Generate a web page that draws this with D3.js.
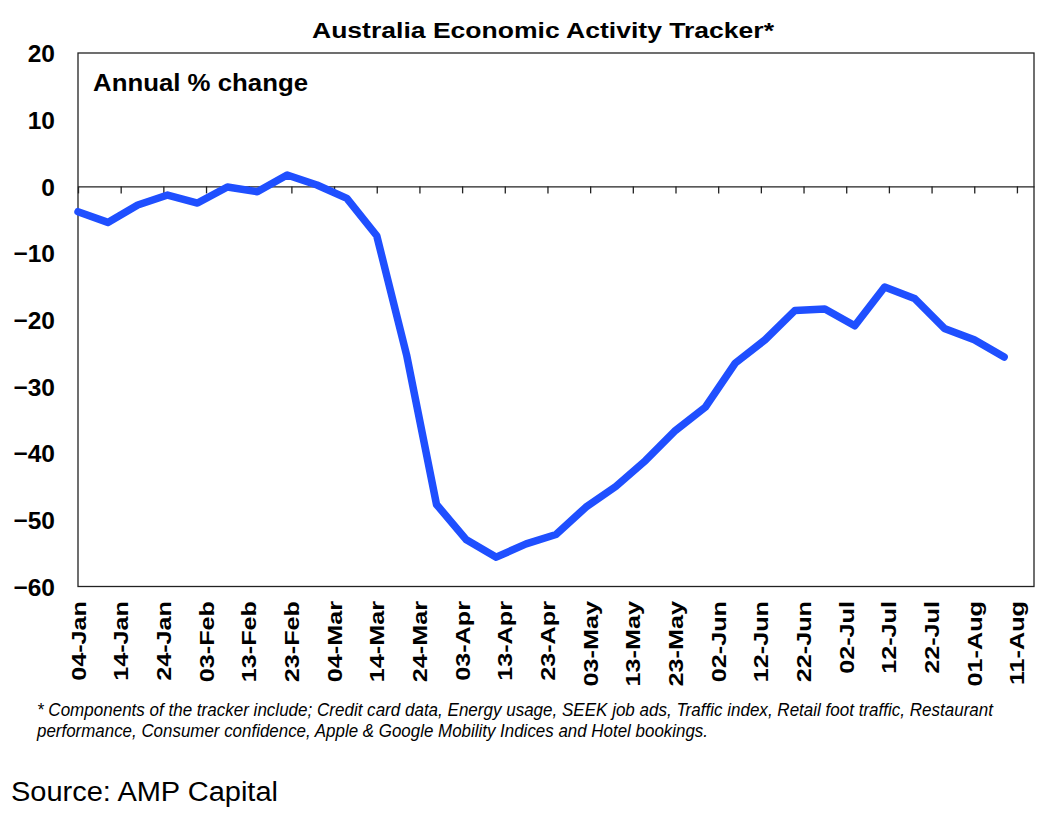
<!DOCTYPE html>
<html>
<head>
<meta charset="utf-8">
<script src="https://cdn.jsdelivr.net/npm/d3@7"></script>
<style>
  html, body { margin: 0; padding: 0; background: #fff; }
  svg { display: block; }
  text { font-family: "Liberation Sans", Arial, sans-serif; fill: #000; }
</style>
</head>
<body>
<svg id="chart" width="1064" height="815"></svg>
<script>
// ---- Data ----
const weekDates = ["2020-01-04","2020-01-11","2020-01-18","2020-01-25","2020-02-01","2020-02-08",
  "2020-02-15","2020-02-22","2020-02-29","2020-03-07","2020-03-14","2020-03-21","2020-03-28",
  "2020-04-04","2020-04-11","2020-04-18","2020-04-25","2020-05-02","2020-05-09","2020-05-16",
  "2020-05-23","2020-05-30","2020-06-06","2020-06-13","2020-06-20","2020-06-27","2020-07-04",
  "2020-07-11","2020-07-18","2020-07-25","2020-08-01","2020-08-08"];
const trackerValues = [-3.8,-5.4,-2.8,-1.3,-2.5,-0.1,-0.8,1.7,0.2,-1.8,-7.4,-25.3,-47.7,-53.0,
  -55.6,-53.6,-52.2,-48.1,-45.0,-41.1,-36.6,-33.1,-26.5,-23.0,-18.6,-18.4,-20.9,-15.1,-16.8,
  -21.3,-23.0,-25.6];
const tickDates = ["2020-01-04","2020-01-14","2020-01-24","2020-02-03","2020-02-13","2020-02-23",
  "2020-03-04","2020-03-14","2020-03-24","2020-04-03","2020-04-13","2020-04-23","2020-05-03",
  "2020-05-13","2020-05-23","2020-06-02","2020-06-12","2020-06-22","2020-07-02","2020-07-12",
  "2020-07-22","2020-08-01","2020-08-11"];
const tickLabels = ["04-Jan","14-Jan","24-Jan","03-Feb","13-Feb","23-Feb","04-Mar","14-Mar",
  "24-Mar","03-Apr","13-Apr","23-Apr","03-May","13-May","23-May","02-Jun","12-Jun","22-Jun",
  "02-Jul","12-Jul","22-Jul","01-Aug","11-Aug"];
const yTicks = [20, 10, 0, -10, -20, -30, -40, -50, -60];
const xDomain = ["2020-01-04", "2020-08-15"];
const yDomain = [-60, 20];

const titleText = "Australia Economic Activity Tracker*";
const unitText = "Annual % change";
const footLines = [
  "* Components of the tracker include; Credit card data, Energy usage, SEEK job ads, Traffic index, Retail foot traffic, Restaurant",
  "performance, Consumer confidence, Apple & Google Mobility Indices and Hotel bookings."
];
const sourceText = "Source: AMP Capital";

// ---- Layout ----
const plot = { left: 78, right: 1034, top: 53, bottom: 586.5 };
const parse = d3.utcParse("%Y-%m-%d");

const svg = d3.select("#chart");
const x = d3.scaleUtc().domain(xDomain.map(parse)).range([plot.left, plot.right]);
const y = d3.scaleLinear().domain(yDomain).range([plot.bottom, plot.top]);

// Title
svg.append("text")
  .attr("x", 543).attr("y", 37.5)
  .attr("text-anchor", "middle")
  .attr("font-size", 22.5).attr("font-weight", "bold")
  .attr("textLength", 462).attr("lengthAdjust", "spacingAndGlyphs")
  .text(titleText);

// Plot border
svg.append("rect")
  .attr("x", plot.left).attr("y", plot.top)
  .attr("width", plot.right - plot.left).attr("height", plot.bottom - plot.top)
  .attr("fill", "none").attr("stroke", "#222").attr("stroke-width", 1.3);

// Zero axis with ticks
const xAxis = d3.axisBottom(x)
  .tickValues(tickDates.map(parse))
  .tickSize(7)
  .tickSizeOuter(0)
  .tickFormat("");
const xg = svg.append("g")
  .attr("transform", `translate(0,${y(0)})`)
  .call(xAxis);
xg.select(".domain").attr("stroke", "#222").attr("stroke-width", 1.3);
xg.selectAll(".tick line").attr("stroke", "#222").attr("stroke-width", 1.3);

// X labels (low position, rotated)
const xl = svg.append("g");
tickDates.forEach((d, i) => {
  const t = xl.append("text")
    .attr("transform", `translate(${x(parse(d)) + 7.5},601) rotate(-90)`)
    .attr("text-anchor", "end")
    .attr("font-size", 21).attr("font-weight", "bold")
    .text(tickLabels[i]);
  const len = t.node().getComputedTextLength();
  t.attr("textLength", len * 1.2).attr("lengthAdjust", "spacingAndGlyphs");
});

// Y axis labels
const yAxis = d3.axisLeft(y).tickValues(yTicks).tickSize(0).tickPadding(0);
const yg = svg.append("g")
  .attr("transform", `translate(${55},0)`)
  .call(yAxis);
yg.select(".domain").remove();
yg.selectAll(".tick text")
  .attr("font-size", 24.5).attr("font-weight", "bold")
  .attr("font-family", '"Liberation Sans", Arial, sans-serif')
  .attr("fill", "#000")
  .attr("dy", "0.36em");

// Unit label
svg.append("text")
  .attr("x", 93).attr("y", 90.5)
  .attr("font-size", 23).attr("font-weight", "bold")
  .attr("textLength", 215).attr("lengthAdjust", "spacingAndGlyphs")
  .text(unitText);

// Line
const data = weekDates.map((d, i) => ({ date: parse(d), value: trackerValues[i] }));
const line = d3.line().x(d => x(d.date)).y(d => y(d.value));
svg.append("path")
  .datum(data)
  .attr("d", line)
  .attr("fill", "none")
  .attr("stroke", "#1F4FFF")
  .attr("stroke-width", 7.5)
  .attr("stroke-linejoin", "round")
  .attr("stroke-linecap", "round");

// Footnote
const footWidths = [956, 671];
footLines.forEach((t, i) => {
  svg.append("text")
    .attr("x", 37).attr("y", 716 + i * 21)
    .attr("font-family", '"Liberation Sans Narrow", "Liberation Sans", Arial, sans-serif')
    .attr("font-style", "italic")
    .attr("font-size", 17.5)
    .attr("textLength", footWidths[i]).attr("lengthAdjust", "spacingAndGlyphs")
    .text(t);
});

// Source
svg.append("text")
  .attr("x", 11).attr("y", 801)
  .attr("font-size", 27)
  .attr("textLength", 267).attr("lengthAdjust", "spacingAndGlyphs")
  .text(sourceText);
</script>
</body>
</html>
